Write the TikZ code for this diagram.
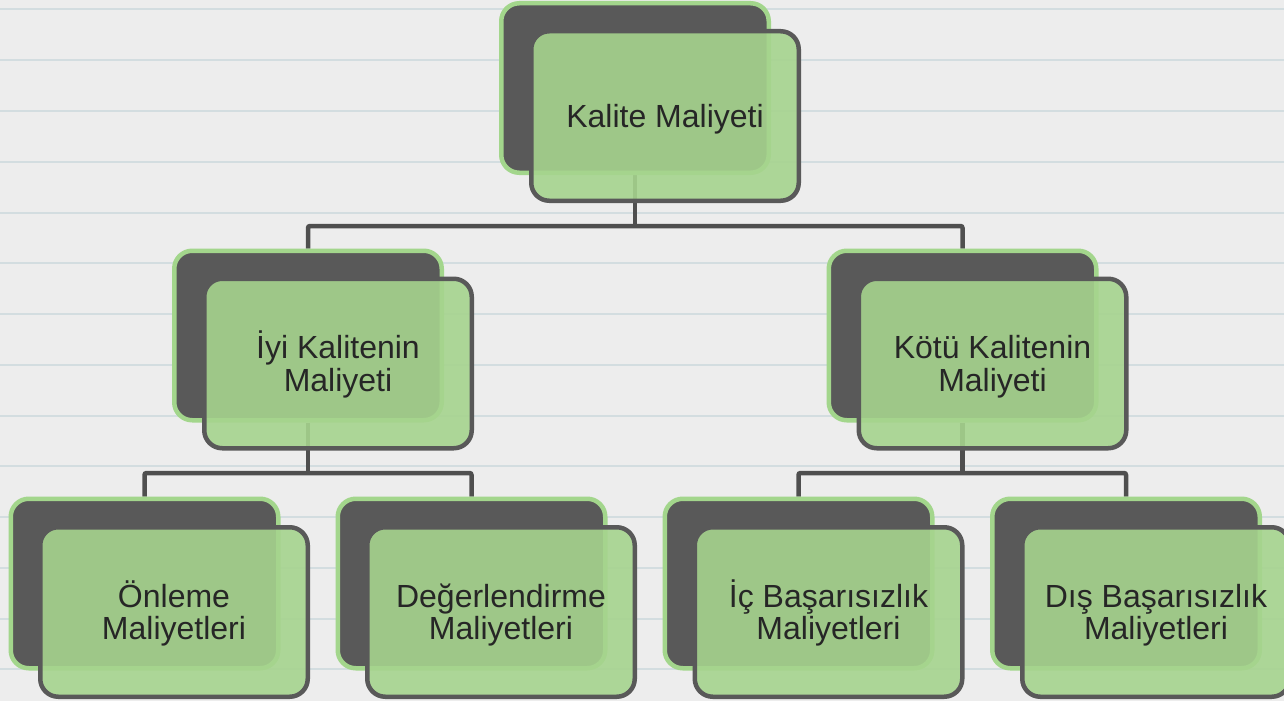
\documentclass[tikz,border=0pt]{standalone}
\usepackage{fontspec}
\setmainfont{Liberation Sans}
\definecolor{bgc}{HTML}{EDEDED}
\definecolor{rulec}{HTML}{D3DDE0}
\definecolor{darkc}{HTML}{595959}
\definecolor{lgreen}{HTML}{A6D48E}
\definecolor{gborder}{HTML}{A3D68C}
\definecolor{connc}{HTML}{4F4F4F}
\definecolor{txtc}{HTML}{262626}
\pgfdeclarelayer{paper}
\pgfdeclarelayer{wires}
\pgfsetlayers{paper,wires,main}
\begin{document}
\begin{tikzpicture}[x=1pt,y=-1pt,
  backbox/.style={draw=gborder, fill=darkc, line width=4.5pt, rounded corners=18pt,
    minimum width=267.5pt, minimum height=169.5pt, inner sep=0pt},
  frontbox/.style={draw=darkc, fill=lgreen, fill opacity=0.9, draw opacity=1, text opacity=1,
    line width=4.5pt, rounded corners=18pt, minimum width=267.5pt, minimum height=169.5pt,
    inner sep=0pt, align=center, font=\fontsize{32}{32.5}\selectfont, text=txtc,
    text height=55.5pt, text depth=0pt},
  oneline/.style={text height=23pt, text depth=0pt},
  connector/.style={draw=connc, line width=4.5pt, rounded corners=2pt},
  rulestyle/.style={draw=rulec, line width=2pt}]
\useasboundingbox (0,0) rectangle (1284,701);
\clip (0,0) rectangle (1284,701);
\begin{pgfonlayer}{paper}
  \fill[bgc] (0,0) rectangle (1284,701);
  \foreach \k in {0,...,13}
    \draw[rulestyle] (0,{9.5+50.75*\k}) -- (1284,{9.5+50.75*\k});
\end{pgfonlayer}

% top
\node[backbox] (b0) at (635,88) {};
\node[frontbox,oneline] (f0) at (665,116) {Kalite Maliyeti};
% level 2
\node[backbox] (b1) at (308,335.5) {};
\node[frontbox] (f1) at (338,363.5) {İyi Kalitenin\\Maliyeti};
\node[backbox] (b2) at (962.5,335.5) {};
\node[frontbox] (f2) at (992.5,363.5) {Kötü Kalitenin\\Maliyeti};
% level 3
\node[backbox] (b3) at (144.5,583.5) {};
\node[frontbox] (f3) at (174,612) {Önleme\\Maliyetleri};
\node[backbox] (b4) at (471.5,583.5) {};
\node[frontbox] (f4) at (501,612) {Değerlendirme\\Maliyetleri};
\node[backbox] (b5) at (798.5,583.5) {};
\node[frontbox] (f5) at (828.5,612) {İç Başarısızlık\\Maliyetleri};
\node[backbox] (b6) at (1126,583.5) {};
\node[frontbox] (f6) at (1156,612) {Dış Başarısızlık\\Maliyetleri};

\coordinate (bus0) at (0,226);
\coordinate (bus1) at (0,473);
\begin{pgfonlayer}{wires}
  \draw[connector] (b1.north) |- (b0.south |- bus0) -| (b2.north);
  \draw[connector] (b0.south) -- (b0.south |- bus0);
  \draw[connector] (b3.north) |- (b1.south |- bus1) -| (b4.north);
  \draw[connector] (b1.south) -- (b1.south |- bus1);
  \draw[connector] (b5.north) |- (b2.south |- bus1) -| (b6.north);
  \draw[connector] (b2.south) -- (b2.south |- bus1);
\end{pgfonlayer}
\end{tikzpicture}
\end{document}
